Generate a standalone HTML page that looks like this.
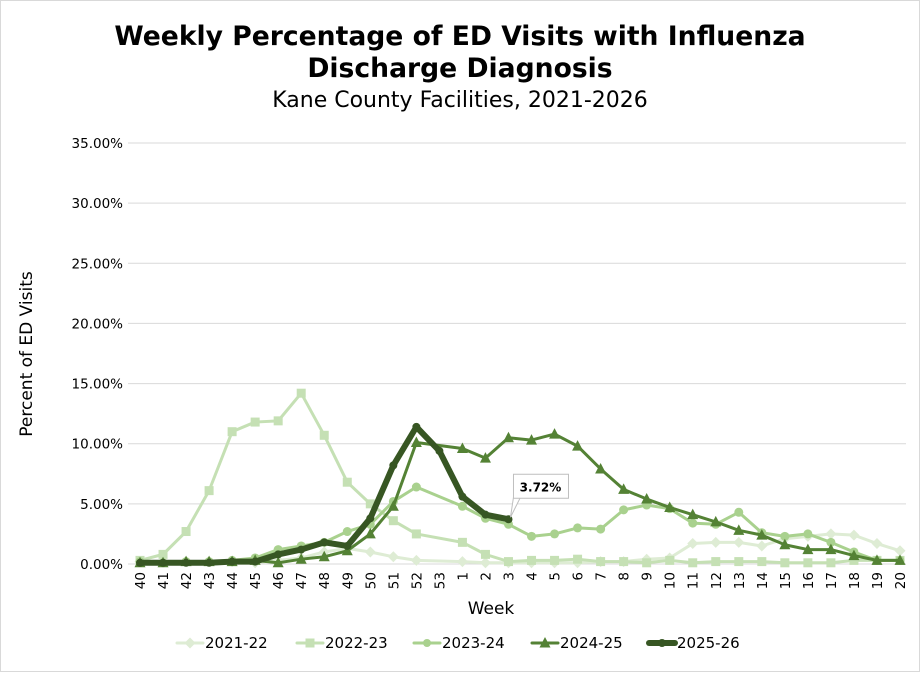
<!DOCTYPE html>
<html><head><meta charset="utf-8"><style>
body{margin:0;background:#fff;}
svg text{font-family:"DejaVu Sans","Liberation Sans",sans-serif;}
</style></head><body>
<svg id="chart" width="920" height="672" viewBox="0 0 920 672">
<rect x="0.5" y="0.5" width="919" height="671" fill="#fff" stroke="#d9d9d9"/>
<text x="460" y="45" text-anchor="middle" font-size="26.6" font-weight="bold">Weekly Percentage of ED Visits with Influenza</text>
<text x="460" y="77" text-anchor="middle" font-size="26.6" font-weight="bold">Discharge Diagnosis</text>
<text x="460" y="107" text-anchor="middle" font-size="22">Kane County Facilities, 2021-2026</text>
<text transform="translate(32,354) rotate(-90)" text-anchor="middle" font-size="17">Percent of ED Visits</text>
<text x="491" y="614" text-anchor="middle" font-size="17">Week</text>
<g id="grid"></g><g id="xt"></g><g id="series"></g><g id="legend"></g>
</svg>
<script>
const weeks=["40","41","42","43","44","45","46","47","48","49","50","51","52","53","1","2","3","4","5","6","7","8","9","10","11","12","13","14","15","16","17","18","19","20"];
const yTicks=[0,5,10,15,20,25,30,35];
const seasons=["2021-22","2022-23","2023-24","2024-25","2025-26"];
const s2122=[0.2,0.2,0.2,0.2,0.2,0.1,0.3,0.5,1.0,1.3,1.0,0.6,0.3,null,0.2,0.1,0.1,0.1,0.1,0.1,0.2,0.2,0.4,0.5,1.7,1.8,1.8,1.5,2.1,2.3,2.5,2.4,1.7,1.1];
const s2223=[0.3,0.8,2.7,6.1,11.0,11.8,11.9,14.2,10.7,6.8,5.0,3.6,2.5,null,1.8,0.8,0.2,0.3,0.3,0.4,0.2,0.2,0.1,0.3,0.1,0.2,0.2,0.2,0.1,0.1,0.1,0.3,0.3,0.3];
const s2324=[0.2,0.1,0.2,0.2,0.3,0.5,1.2,1.5,1.8,2.7,3.3,5.2,6.4,null,4.8,3.8,3.3,2.3,2.5,3.0,2.9,4.5,4.9,4.6,3.4,3.3,4.3,2.6,2.3,2.5,1.8,1.0,0.3,0.3];
const s2425=[0.1,0.1,0.2,0.2,0.2,0.3,0.1,0.4,0.6,1.1,2.5,4.8,10.1,null,9.6,8.8,10.5,10.3,10.8,9.8,7.9,6.2,5.4,4.7,4.1,3.5,2.8,2.4,1.6,1.2,1.2,0.7,0.3,0.3];
const s2526=[0.1,0.1,0.1,0.1,0.2,0.2,0.8,1.2,1.8,1.5,3.8,8.2,11.4,9.4,5.6,4.1,3.72];
const NS="http://www.w3.org/2000/svg";
const x0=140,x1=900,yb=564,yt=143;
function X(i){return x0+i*(x1-x0)/(weeks.length-1);}
function Y(v){return yb-(v/35)*(yb-yt);}
function mk(t,a,p){const e=document.createElementNS(NS,t);for(const k in a)e.setAttribute(k,a[k]);p.appendChild(e);return e;}
const grid=document.getElementById('grid');
yTicks.forEach(t=>{
 const l=mk('line',{x1:128,x2:906,y1:Y(t),y2:Y(t),stroke:'#d9d9d9','stroke-width':1},grid);
 
 
 const tx=mk('text',{x:123,y:Y(t)+5,'text-anchor':'end','font-size':13.5},grid);
 tx.textContent=t.toFixed(2)+'%';
 
 
});
const xt=document.getElementById('xt');
weeks.forEach((w,i)=>{
 const tx=mk('text',{transform:`translate(${X(i)+5},572) rotate(-90)`,'text-anchor':'end','font-size':13.5},xt);
 tx.textContent=w;
 
 
});
const styles=[
 {d:s2122,c:'#deecd4',w:3,m:'diamond'},
 {d:s2223,c:'#c5e0b4',w:3,m:'square'},
 {d:s2324,c:'#a9d18e',w:3,m:'circle'},
 {d:s2425,c:'#548235',w:3,m:'triangle'},
 {d:s2526,c:'#375623',w:6,m:'circle'}
];
function marker(m,x,y,c,g,r){
 let e;
 if(m==='diamond')e=mk('polygon',{points:`${x},${y-5.5} ${x+5.5},${y} ${x},${y+5.5} ${x-5.5},${y}`,fill:c},g);
 else if(m==='square')e=mk('rect',{x:x-4.5,y:y-4.5,width:9,height:9,fill:c},g);
 else if(m==='triangle')e=mk('polygon',{points:`${x},${y-6} ${x+5.5},${y+4.5} ${x-5.5},${y+4.5}`,fill:c},g);
 else e=mk('circle',{cx:x,cy:y,r:r||4.5,fill:c},g);
 return e;
}
const sg=document.getElementById('series');
styles.forEach((s,k)=>{
 const g=mk('g',{},sg);
 
 
 const pts=[];s.d.forEach((v,i)=>{if(v!==null)pts.push([X(i),Y(v)]);});
 const pl=mk('polyline',{points:pts.map(p=>p.join(',')).join(' '),fill:'none',stroke:s.c,'stroke-width':s.w,'stroke-linejoin':'round','stroke-linecap':'round'},g);
 
 
 pts.forEach(p=>{const e=marker(s.m,p[0],p[1],s.c,g,k===4?4:4.5);
  
  });
});
const li=s2526.length-1,lx=X(li),ly=Y(s2526[li]);
const lab=mk('g',{},sg);


mk('polygon',{points:`${lx+5},${ly-22} ${lx+12},${ly-22} ${lx+2},${ly-2}`,fill:'#fff',stroke:'#bfbfbf'},lab);
mk('rect',{x:lx+5,y:ly-45,width:55,height:24,fill:'#fff',stroke:'#bfbfbf'},lab);
const lt=mk('text',{x:lx+32,y:ly-28,'text-anchor':'middle','font-size':12,'font-weight':'bold'},lab);
lt.textContent=s2526[li].toFixed(2)+'%';
const leg=document.getElementById('legend');
const lxs=[177,297,414,532,649];
styles.forEach((s,k)=>{
 const g=mk('g',{},leg);
 
 
 mk('line',{x1:lxs[k],x2:lxs[k]+26,y1:643,y2:643,stroke:s.c,'stroke-width':s.w,'stroke-linecap':'round'},g);
 marker(s.m,lxs[k]+13,643,s.c,g,4);
 const t=mk('text',{x:lxs[k]+28,y:648,'font-size':15},g);
 t.textContent=seasons[k];
});
</script>
</body></html>
